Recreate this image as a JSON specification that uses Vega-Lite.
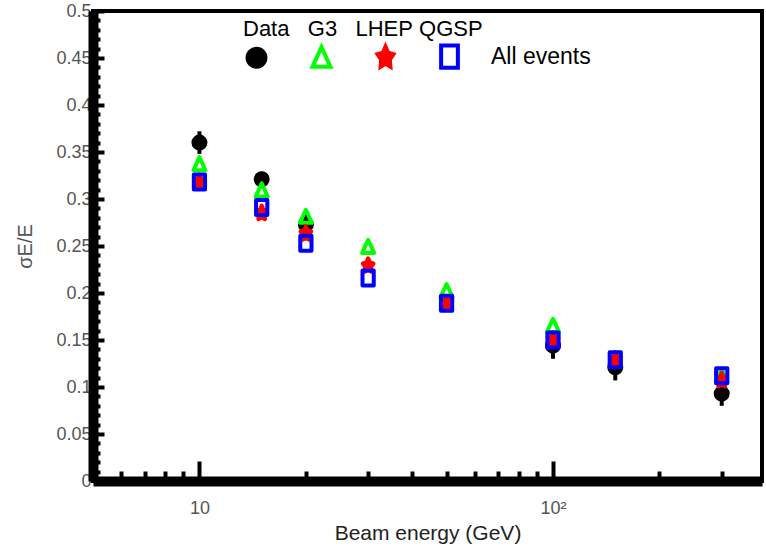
{
  "$schema": "https://vega.github.io/schema/vega-lite/v6.json",
  "width": 669,
  "height": 470,
  "autosize": {"type": "none"},
  "padding": {"left": 93, "top": 11, "right": 4, "bottom": 72},
  "background": "white",
  "config": {
    "font": "Liberation Sans",
    "view": {"stroke": "black", "strokeWidth": 4},
    "axis": {"grid": false, "domainColor": "black", "tickColor": "black", "labelOverlap": false, "labelFlush": false}
  },
  "datasets": {
    "resolution": [
      {"E": 10, "model": "Data", "sigma": 0.360, "err": 0.012},
      {"E": 15, "model": "Data", "sigma": 0.321, "err": 0.008},
      {"E": 20, "model": "Data", "sigma": 0.273, "err": 0.010},
      {"E": 100, "model": "Data", "sigma": 0.144, "err": 0.014},
      {"E": 150, "model": "Data", "sigma": 0.121, "err": 0.014},
      {"E": 300, "model": "Data", "sigma": 0.093, "err": 0.013},
      {"E": 10, "model": "G3", "sigma": 0.337},
      {"E": 15, "model": "G3", "sigma": 0.309},
      {"E": 20, "model": "G3", "sigma": 0.281},
      {"E": 30, "model": "G3", "sigma": 0.249},
      {"E": 50, "model": "G3", "sigma": 0.202},
      {"E": 100, "model": "G3", "sigma": 0.165},
      {"E": 150, "model": "G3", "sigma": 0.129},
      {"E": 300, "model": "G3", "sigma": 0.112},
      {"E": 10, "model": "LHEP", "sigma": 0.318},
      {"E": 15, "model": "LHEP", "sigma": 0.285},
      {"E": 20, "model": "LHEP", "sigma": 0.263},
      {"E": 30, "model": "LHEP", "sigma": 0.229},
      {"E": 50, "model": "LHEP", "sigma": 0.189},
      {"E": 100, "model": "LHEP", "sigma": 0.150},
      {"E": 150, "model": "LHEP", "sigma": 0.129},
      {"E": 300, "model": "LHEP", "sigma": 0.107},
      {"E": 10, "model": "QGSP", "sigma": 0.318},
      {"E": 15, "model": "QGSP", "sigma": 0.291},
      {"E": 20, "model": "QGSP", "sigma": 0.253},
      {"E": 30, "model": "QGSP", "sigma": 0.216},
      {"E": 50, "model": "QGSP", "sigma": 0.189},
      {"E": 100, "model": "QGSP", "sigma": 0.150},
      {"E": 150, "model": "QGSP", "sigma": 0.129},
      {"E": 300, "model": "QGSP", "sigma": 0.112}
    ]
  },
  "data": {"name": "resolution"},
  "encoding": {
    "x": {
      "field": "E",
      "type": "quantitative",
      "scale": {"type": "log", "domain": [5, 390], "nice": false},
      "axis": {
        "title": "Beam energy (GeV)",
        "values": [6, 7, 8, 9, 10, 20, 30, 40, 50, 60, 70, 80, 90, 100, 200, 300],
        "labelExpr": "datum.value == 10 ? '10' : datum.value == 100 ? '10²' : ''",
        "tickSize": {"condition": {"test": "datum.value == 10 || datum.value == 100", "value": -20}, "value": -10},
        "tickWidth": 4,
        "domainWidth": 10,
        "labelPadding": 38,
        "labelFontSize": 18,
        "labelColor": "#555555",
        "titleFontSize": 21,
        "titleFontWeight": "normal",
        "titleColor": "#222222",
        "titlePadding": -5
      }
    },
    "y": {
      "field": "sigma",
      "type": "quantitative",
      "scale": {"domain": [0, 0.5], "nice": false},
      "axis": {
        "title": "σE/E",
        "values": [0, 0.01, 0.02, 0.03, 0.04, 0.05, 0.06, 0.07, 0.08, 0.09, 0.1, 0.11, 0.12, 0.13, 0.14, 0.15, 0.16, 0.17, 0.18, 0.19, 0.2, 0.21, 0.22, 0.23, 0.24, 0.25, 0.26, 0.27, 0.28, 0.29, 0.3, 0.31, 0.32, 0.33, 0.34, 0.35, 0.36, 0.37, 0.38, 0.39, 0.4, 0.41, 0.42, 0.43, 0.44, 0.45, 0.46, 0.47, 0.48, 0.49, 0.5],
        "labelExpr": "abs(datum.value * 20 - round(datum.value * 20)) < 0.001 ? format(datum.value, '.2~f') : ''",
        "tickSize": {"condition": {"test": "abs(datum.value * 20 - round(datum.value * 20)) < 0.001", "value": -11}, "value": -7},
        "tickWidth": 4,
        "domainWidth": 10,
        "labelPadding": 13,
        "labelFontSize": 18,
        "labelColor": "#555555",
        "titleFontSize": 20,
        "titleFontWeight": "normal",
        "titleColor": "#555555",
        "titlePadding": 20
      }
    }
  },
  "layer": [
    {
      "transform": [{"filter": "datum.model === 'Data'"}],
      "mark": {"type": "errorbar", "color": "black", "thickness": 4},
      "encoding": {
        "yError": {"field": "err"}
      }
    },
    {
      "mark": {"type": "point", "size": 225, "strokeWidth": 4, "strokeJoin": "round", "opacity": 1},
      "encoding": {
        "fill": {
          "field": "model",
          "type": "nominal",
          "scale": {"domain": ["Data", "G3", "LHEP", "QGSP"], "range": ["#000000", "transparent", "#ff0000", "transparent"]},
          "legend": null
        },
        "stroke": {
          "field": "model",
          "type": "nominal",
          "scale": {"domain": ["Data", "G3", "LHEP", "QGSP"], "range": ["#000000", "#00ff00", "#ff0000", "#0000ff"]},
          "legend": null
        },
        "shape": {
          "field": "model",
          "type": "nominal",
          "scale": {
            "domain": ["Data", "G3", "LHEP", "QGSP"],
            "range": [
              "M-0.8,0A0.8,0.8 0 1,0 0.8,0A0.8,0.8 0 1,0 -0.8,0Z",
              "M0,-0.95L0.8,0.8L-0.8,0.8Z",
              "M0,-1L0.243,-0.445L0.713,-0.309L0.392,0.17L0.441,0.809L0,0.55L-0.441,0.809L-0.392,0.17L-0.713,-0.309L-0.243,-0.445Z",
              "M-0.75,-1H0.75V1H-0.75Z"
            ]
          },
          "legend": {
            "orient": "none",
            "legendX": 150,
            "legendY": 8,
            "direction": "horizontal",
            "title": "Data\u00a0\u00a0\u00a0G3\u00a0\u00a0\u00a0LHEP\u00a0QGSP",
            "titleOrient": "top",
            "titleAnchor": "start",
            "titleFontSize": 22,
            "titleFontWeight": "normal",
            "titleColor": "black",
            "titlePadding": 2,
            "titleLimit": 400,
            "labelExpr": "datum.label == 'QGSP' ? 'All events' : ''",
            "labelFontSize": 23,
            "labelColor": "black",
            "labelOffset": 28,
            "labelLimit": 300,
            "symbolSize": 500,
            "symbolStrokeWidth": 4,
            "columnPadding": 6,
            "encode": {
              "symbols": {
                "fill": {"condition": [{"test": "datum.value === 'Data'", "value": "#000000"}, {"test": "datum.value === 'LHEP'", "value": "#ff0000"}], "value": "transparent"},
                "stroke": {"condition": [{"test": "datum.value === 'Data'", "value": "#000000"}, {"test": "datum.value === 'G3'", "value": "#00ff00"}, {"test": "datum.value === 'LHEP'", "value": "#ff0000"}], "value": "#0000ff"}
              }
            }
          }
        }
      }
    }
  ]
}
